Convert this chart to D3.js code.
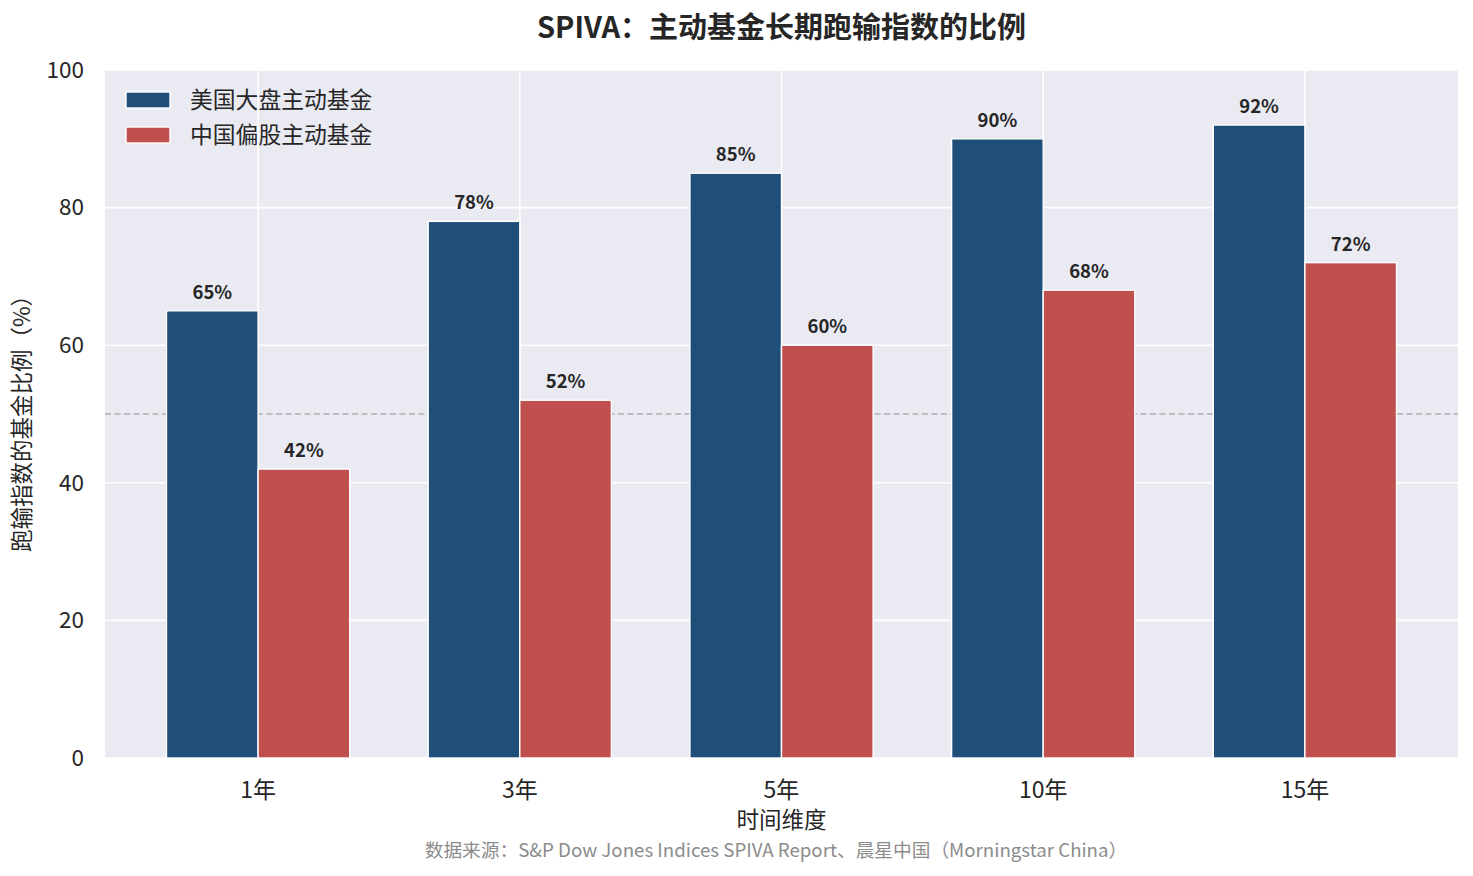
<html>
  <meta charset="utf-8" />
  <script src="https://d3js.org/d3.v7.min.js"></script>
  <style>
    body { margin: 0; background: #fff; }
    text { font-family: "Noto Sans CJK SC", "Noto Sans", sans-serif; fill: #262626; }
  </style>
  <body>
    <div id="chart"></div>
    <script>
      // data
      const periods = ["1年", "3年", "5年", "10年", "15年"];
      const usLarge = [65, 78, 85, 90, 92];
      const chinaEq = [42, 52, 60, 68, 72];
      const seriesNames = ["美国大盘主动基金", "中国偏股主动基金"];
      const seriesColors = ["#1F4E79", "#C0504D"];
      const yTicks = [0, 20, 40, 60, 80, 100];

      const W = 1473, H = 876;
      const plotL = 105, plotR = 1458, plotT = 70, plotB = 758;

      const svg = d3.select("#chart").append("svg")
        .attr("width", W).attr("height", H);

      const x = d3.scalePoint().domain(periods).range([plotL, plotR]).padding(0.585);
      const step = x.step();
      const barW = step * 0.35;
      const y = d3.scaleLinear().domain([0, 100]).range([plotB, plotT]);

      // background
      svg.append("rect").attr("x", plotL).attr("y", plotT)
        .attr("width", plotR - plotL).attr("height", plotB - plotT)
        .attr("fill", "#EAEAF2");

      // grid
      svg.append("g").selectAll("line").data(yTicks).join("line")
        .attr("x1", plotL).attr("x2", plotR)
        .attr("y1", d => y(d)).attr("y2", d => y(d))
        .attr("stroke", "#fff").attr("stroke-width", 1.6);
      svg.append("g").selectAll("line").data(periods).join("line")
        .attr("x1", d => x(d)).attr("x2", d => x(d))
        .attr("y1", plotT).attr("y2", plotB)
        .attr("stroke", "#fff").attr("stroke-width", 1.6);

      // 50% reference line
      svg.append("line").attr("x1", plotL).attr("x2", plotR)
        .attr("y1", y(50)).attr("y2", y(50))
        .attr("stroke", "#b0b0b0").attr("stroke-width", 1.4)
        .attr("stroke-dasharray", "6,3.5");

      // bars
      const series = [usLarge, chinaEq];
      series.forEach((vals, si) => {
        const g = svg.append("g");
        const rows = periods.map((p, i) => ({ p: p, v: vals[i] }));
        g.selectAll("rect").data(rows).join("rect")
          .attr("x", d => x(d.p) - barW + si * barW)
          .attr("y", d => y(d.v))
          .attr("width", barW)
          .attr("height", d => plotB - y(d.v))
          .attr("fill", seriesColors[si])
          .attr("stroke", "#fff").attr("stroke-width", 1.4);
        g.selectAll("text").data(rows).join("text")
          .attr("x", d => x(d.p) - barW / 2 + si * barW)
          .attr("y", d => y(d.v) - 12)
          .attr("text-anchor", "middle")
          .attr("font-size", 18.5).attr("font-weight", "bold")
          .text(d => d.v + "%");
      });

      // y axis labels
      svg.append("g").selectAll("text").data(yTicks).join("text")
        .attr("x", 84).attr("y", d => y(d))
        .attr("dy", "0.35em")
        .attr("text-anchor", "end")
        .attr("font-size", 22.5)
        .text(d => d);

      // x axis labels
      svg.append("g").selectAll("text").data(periods).join("text")
        .attr("x", d => x(d)).attr("y", 790)
        .attr("dy", "0.35em")
        .attr("text-anchor", "middle")
        .attr("font-size", 23)
        .text(d => d);

      svg.append("text").attr("x", (plotL + plotR) / 2).attr("y", 820)
        .attr("dy", "0.35em").attr("text-anchor", "middle")
        .attr("font-size", 22.5).text("时间维度");

      svg.append("text")
        .attr("transform", `translate(22, ${(plotT + plotB) / 2 + 4}) rotate(-90)`)
        .attr("dy", "0.35em").attr("text-anchor", "middle")
        .attr("font-size", 22.5).text("跑输指数的基金比例（%）");

      // title
      svg.append("text").attr("x", (plotL + plotR) / 2).attr("y", 28)
        .attr("dy", "0.35em").attr("text-anchor", "middle")
        .attr("font-size", 29).attr("font-weight", "bold")
        .text("SPIVA：主动基金长期跑输指数的比例");

      // source note
      svg.append("text").attr("x", 776).attr("y", 850)
        .attr("dy", "0.35em").attr("text-anchor", "middle")
        .attr("font-size", 18.7).style("fill", "#8c8c8c")
        .text("数据来源：S&P Dow Jones Indices SPIVA Report、晨星中国（Morningstar China）");

      // legend
      const legend = svg.append("g").attr("transform", "translate(126, 92)");
      seriesNames.forEach((name, i) => {
        legend.append("rect").attr("x", 0).attr("y", i * 35)
          .attr("width", 44).attr("height", 16)
          .attr("fill", seriesColors[i])
          .attr("stroke", "#fff").attr("stroke-width", 1.4);
        legend.append("text").attr("x", 64).attr("y", i * 35 + 8)
          .attr("dy", "0.35em").attr("font-size", 22.8)
          .text(name);
      });
    </script>
  </body>
</html>
